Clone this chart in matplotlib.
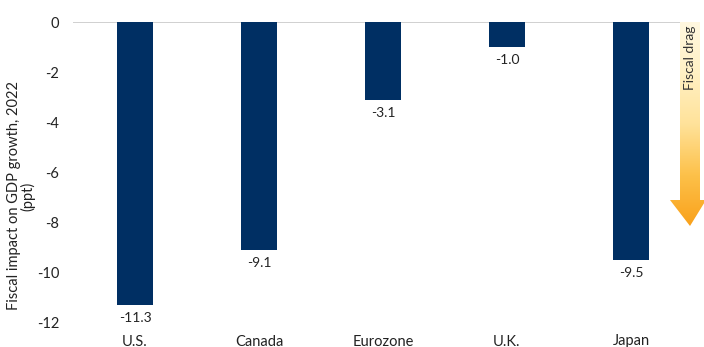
import matplotlib.pyplot as plt
import numpy as np
from matplotlib.patches import Polygon
from matplotlib.colors import LinearSegmentedColormap

regions = ['U.S.', 'Canada', 'Eurozone', 'U.K.', 'Japan']
impact = [-11.3, -9.1, -3.1, -1.0, -9.5]
yticks = [0, -2, -4, -6, -8, -10, -12]

plt.rcParams['font.family'] = ['Lato', 'DejaVu Sans']

fig = plt.figure(figsize=(7.04, 3.47), dpi=100)
ax = fig.add_axes([73 / 704, 1 - 322 / 347, 620 / 704, 300 / 347])

x = np.arange(len(regions))
ax.bar(x, impact, width=0.29, color='#002f63')
for xi, v in zip(x, impact):
    ax.text(xi, v - 0.3, f'{v:.1f}', ha='center', va='top', fontsize=10, color='#222222')

ax.set_xlim(-0.5, len(regions) - 0.5)
ax.set_ylim(-12, 0)
ax.set_yticks(yticks)
ax.set_yticklabels([str(t) for t in yticks])
ax.set_xticks(x)
ax.set_xticklabels(regions)
ax.tick_params(axis='both', length=0, labelsize=10.5, colors='#222222')
ax.tick_params(axis='x', pad=9)
ax.tick_params(axis='y', pad=10)
for s in ['top', 'right', 'bottom', 'left']:
    ax.spines[s].set_visible(False)
ax.axhline(0, color='#c8c8c8', lw=1.2, zorder=0)
ax.set_ylabel('Fiscal impact on GDP growth, 2022\n(ppt)', fontsize=10.5, color='#222222',
              linespacing=0.95)
ax.yaxis.set_label_coords(-0.06, 0.42)

# gradient arrow for fiscal drag
ax_arrow = fig.add_axes([666 / 704, 1 - 226 / 347, 40 / 704, 204 / 347])
ax_arrow.set_xlim(666, 706)
ax_arrow.set_ylim(226, 22)
ax_arrow.axis('off')
arrow = Polygon([(680, 22), (700, 22), (700, 200), (706, 200), (690, 226),
                 (670, 200), (680, 200)], closed=True,
                facecolor='none', edgecolor='none')
ax_arrow.add_patch(arrow)
grad = np.linspace(0, 1, 256).reshape(-1, 1)
cmap = LinearSegmentedColormap.from_list(
    'drag', ['#fff8e0', '#fff1c4', '#ffe29a', '#fdc14a', '#f9a11b'])
img = ax_arrow.imshow(grad, extent=[666, 706, 226, 22], origin='upper', aspect='auto',
                      cmap=cmap)
img.set_clip_path(arrow)
ax_arrow.text(690, 26, 'Fiscal drag', rotation=90, ha='center', va='top',
              fontsize=10, color='#333333')

fig.savefig('out.png', dpi=100)
